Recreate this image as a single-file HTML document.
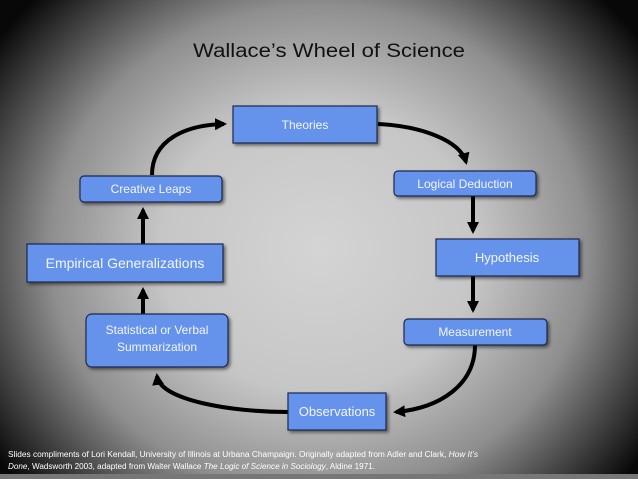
<!DOCTYPE html>
<html><head><style>
html,body{margin:0;padding:0;width:638px;height:479px;overflow:hidden;}
body{background:radial-gradient(ellipse 62% 75% at 50% 52%, #d4d4d4 0%, #c6c6c6 40%, #8e8e8e 68%, #2a2a2a 92%, #080808 100%);}
svg{position:absolute;left:0;top:0;}
text{font-family:"Liberation Sans",sans-serif;}
</style></head><body>
<svg width="638" height="479" viewBox="0 0 638 479">
<defs>
<marker id="ah" markerWidth="12" markerHeight="12" refX="9" refY="6" orient="auto" markerUnits="userSpaceOnUse">
<path d="M0,0 L12,6 L0,12 z" fill="#000"/>
</marker>
<filter id="sh" x="-10%" y="-20%" width="130%" height="160%"><feDropShadow dx="2" dy="2" stdDeviation="1.5" flood-color="#000" flood-opacity="0.5"/></filter>
</defs>
<rect x="0" y="474" width="638" height="5" fill="#777"/>
<text x="193" y="57" font-size="19" fill="#111" textLength="272" lengthAdjust="spacingAndGlyphs">Wallace’s Wheel of Science</text>

<g stroke="#000" stroke-width="4" fill="none">
<path d="M152,175 C152,140 185,125 224,124" marker-end="url(#ah)"/>
<path d="M378,124 C420,126 460,140 466,162" marker-end="url(#ah)"/>
<path d="M473,196 L473,231" marker-end="url(#ah)"/>
<path d="M473,276 L473,310" marker-end="url(#ah)"/>
<path d="M475,345 C475,385 440,408 396,412" marker-end="url(#ah)"/>
<path d="M288,412 C230,412 160,400 157,376" marker-end="url(#ah)"/>
<path d="M143,314 L143,290" marker-end="url(#ah)"/>
<path d="M143,244 L143,210" marker-end="url(#ah)"/>
</g>

<g fill="#6592ea" stroke="#1a2a50" stroke-width="1.2" filter="url(#sh)">
<rect x="233" y="106" width="144" height="37"/>
<rect x="394" y="171" width="142" height="25" rx="4"/>
<rect x="80" y="176" width="142" height="26" rx="4"/>
<rect x="27" y="244" width="196" height="38"/>
<rect x="436" y="239" width="143" height="37"/>
<rect x="86" y="314" width="142" height="53" rx="6"/>
<rect x="404" y="319" width="143" height="26" rx="4"/>
<rect x="288" y="393" width="98" height="37"/>
</g>

<g fill="#f4f6ff" font-size="12" text-anchor="middle">
<text x="305" y="129">Theories</text>
<text x="465" y="188">Logical Deduction</text>
<text x="151" y="193">Creative Leaps</text>
<text x="125" y="268" font-size="14">Empirical Generalizations</text>
<text x="507" y="262" font-size="13">Hypothesis</text>
<text x="157" y="334">Statistical or Verbal</text>
<text x="157" y="351">Summarization</text>
<text x="475" y="336">Measurement</text>
<text x="337" y="416" font-size="13">Observations</text>
</g>

<g font-size="8" fill="#fff">
<text x="8" y="457" textLength="470" lengthAdjust="spacingAndGlyphs">Slides compliments of Lori Kendall, University of Illinois at Urbana Champaign.  Originally adapted from Adler and Clark, <tspan font-style="italic">How It’s</tspan></text>
<text x="8" y="469" textLength="367" lengthAdjust="spacingAndGlyphs"><tspan font-style="italic">Done</tspan>, Wadsworth 2003, adapted from Walter Wallace <tspan font-style="italic">The Logic of Science in Sociology</tspan>, Aldine 1971.</text>
</g>
</svg>
</body></html>
